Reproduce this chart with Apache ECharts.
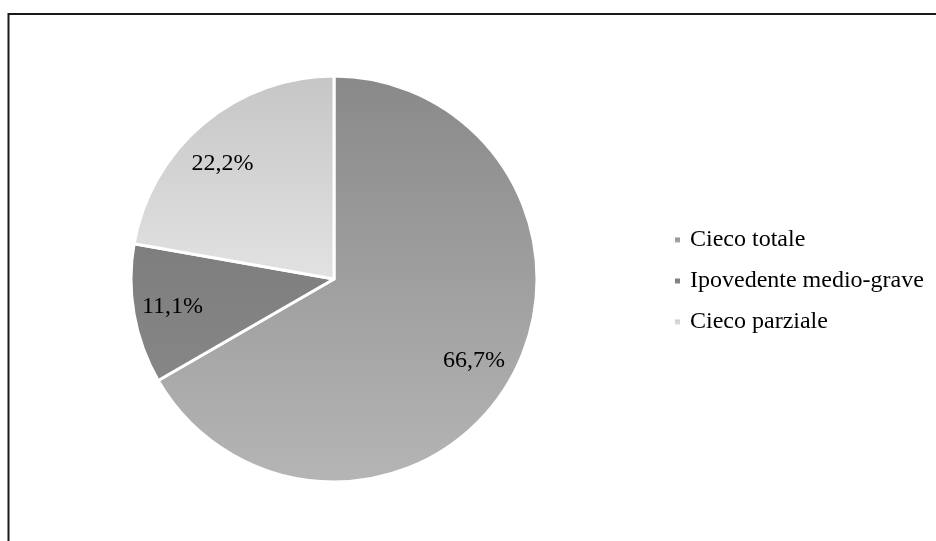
<!DOCTYPE html>
<html>
<head>
<meta charset="utf-8">
<script src="https://cdn.jsdelivr.net/npm/echarts@6/dist/echarts.min.js"></script>
<style>
  html, body { margin: 0; padding: 0; background: #ffffff; }
  #chart { width: 936px; height: 541px; }
</style>
</head>
<body>
<div id="chart"></div>
<script>
// Categories and counts for the pie
const categories = ['Cieco totale', 'Ipovedente medio-grave', 'Cieco parziale'];
const counts = [6, 1, 2];

// Fill for each slice: vertical gradients in grey
const sliceFills = [
  { top: '#898989', bottom: '#b5b5b5' },
  { top: '#7e7e7e', bottom: '#868686' },
  { top: '#c6c6c6', bottom: '#e2e2e2' }
];

// Small nudges for the percentage labels (pixels)
const labelNudges = [[-2, 0], [0, -1], [-6, 10]];

function vGrad(f) {
  return new echarts.graphic.LinearGradient(0, 0, 0, 1, [
    { offset: 0, color: f.top },
    { offset: 1, color: f.bottom }
  ]);
}

const pieData = categories.map((name, i) => ({
  name: name,
  value: counts[i],
  itemStyle: { color: vGrad(sliceFills[i]) }
}));

const labelData = categories.map((name, i) => ({
  name: name,
  value: counts[i],
  label: { offset: labelNudges[i] }
}));

const FONT = '"Liberation Serif", "Times New Roman", serif';
const center = [334, 279];

const chart = echarts.init(document.getElementById('chart'), null, { renderer: 'canvas' });

chart.setOption({
  backgroundColor: '#ffffff',
  animation: false,
  graphic: [{
    type: 'rect',
    silent: true,
    shape: { x: 8.5, y: 14, width: 1200, height: 900 },
    style: { fill: 'none', stroke: '#1a1a1a', lineWidth: 2 }
  }],
  legend: {
    data: categories,
    orient: 'vertical',
    left: 668,
    top: 223,
    itemWidth: 7,
    itemHeight: 7,
    itemGap: 17,
    icon: 'rect',
    selectedMode: false,
    textStyle: {
      fontFamily: FONT,
      fontSize: 24,
      lineHeight: 24,
      color: '#000000',
      padding: [0, 0, 0, 4]
    }
  },
  series: [
    {
      name: 'main',
      type: 'pie',
      center: center,
      radius: [0, 203],
      startAngle: 90,
      clockwise: true,
      avoidLabelOverlap: false,
      label: { show: false },
      labelLine: { show: false },
      itemStyle: { borderColor: '#ffffff', borderWidth: 3 },
      emphasis: { disabled: true },
      data: pieData
    },
    {
      name: 'labels',
      type: 'pie',
      center: center,
      radius: [121, 201],
      startAngle: 90,
      clockwise: true,
      silent: true,
      legendHoverLink: false,
      avoidLabelOverlap: false,
      itemStyle: { color: 'rgba(0,0,0,0)', borderWidth: 0 },
      emphasis: { disabled: true },
      labelLine: { show: false },
      label: {
        show: true,
        position: 'inside',
        fontFamily: FONT,
        fontSize: 24,
        color: '#000000',
        formatter: p => p.percent.toFixed(1).replace('.', ',') + '%'
      },
      data: labelData
    }
  ]
});
</script>
</body>
</html>
